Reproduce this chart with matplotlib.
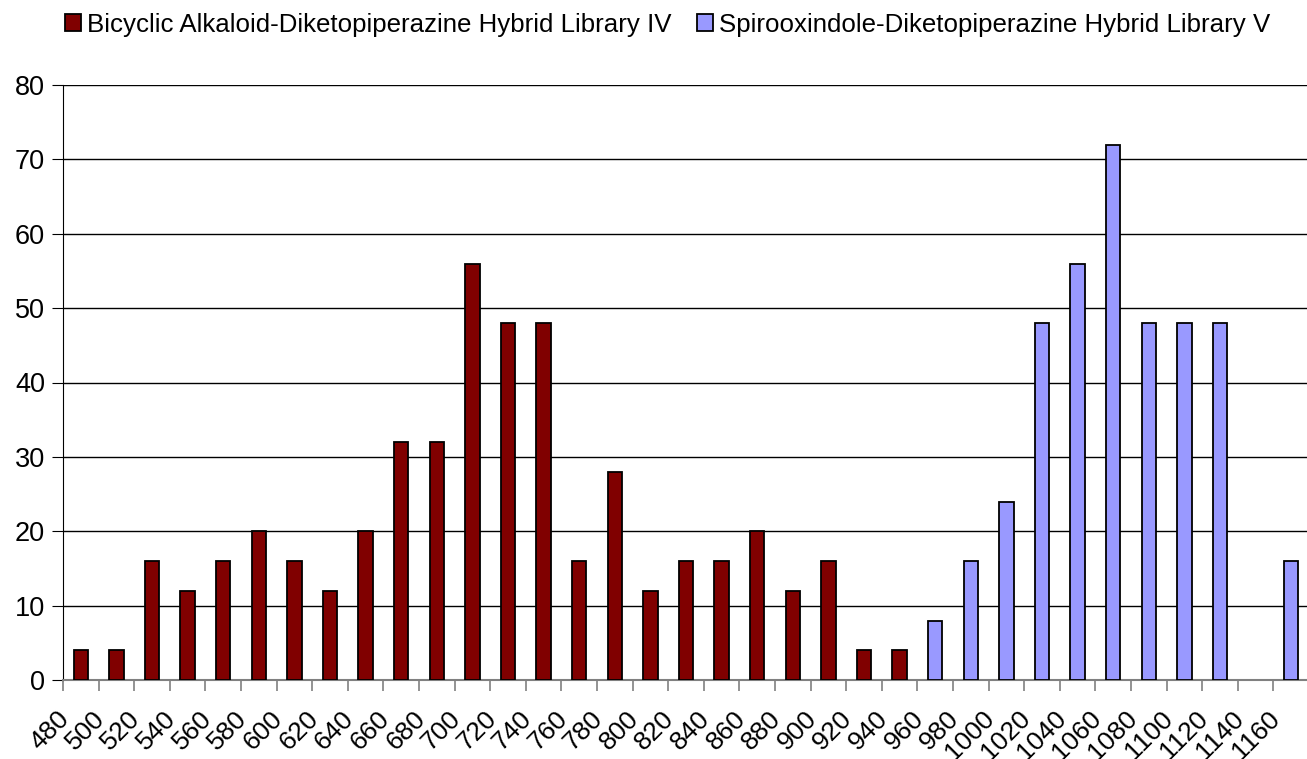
import matplotlib.pyplot as plt
import matplotlib.transforms as mtransforms
import numpy as np

plt.rcParams['font.family'] = ['Liberation Sans', 'DejaVu Sans']

# mass bins (category labels)
bins = [480, 500, 520, 540, 560, 580, 600, 620, 640, 660, 680, 700, 720, 740,
        760, 780, 800, 820, 840, 860, 880, 900, 920, 940, 960, 980, 1000, 1020,
        1040, 1060, 1080, 1100, 1120, 1140, 1160]

# counts per bin for each library (0 where the library has no bar)
lib_iv = [4, 4, 16, 12, 16, 20, 16, 12, 20, 32, 32, 56, 48, 48,
          16, 28, 12, 16, 16, 20, 12, 16, 4, 4, 0, 0, 0, 0,
          0, 0, 0, 0, 0, 0, 0]
lib_v = [0, 0, 0, 0, 0, 0, 0, 0, 0, 0, 0, 0, 0, 0,
         0, 0, 0, 0, 0, 0, 0, 0, 0, 0, 8, 16, 24, 48,
         56, 72, 48, 48, 48, 0, 16]

name_iv = "Bicyclic Alkaloid-Diketopiperazine Hybrid Library IV"
name_v = "Spirooxindole-Diketopiperazine Hybrid Library V"

fig = plt.figure(figsize=(13.07, 7.59), dpi=100)
ax = fig.add_axes([63 / 1307, 79 / 759, 1246 / 1307, 595 / 759])

x = np.arange(len(bins))
iv = np.array(lib_iv)
v = np.array(lib_v)

# only draw the nonzero bars of each series
m1 = iv > 0
m2 = v > 0
ax.bar(x[m1], iv[m1], width=0.4, color='#800000', edgecolor='black',
       linewidth=1.3, label=name_iv, zorder=3)
ax.bar(x[m2], v[m2], width=0.4, color='#9999FF', edgecolor='black',
       linewidth=1.3, label=name_v, zorder=3)

ax.set_xlim(-0.5, len(bins) - 0.5)
ax.set_ylim(0, 80)
ax.set_yticks(range(0, 81, 10))
ax.yaxis.grid(True, color='black', linewidth=1)
ax.set_axisbelow(True)

for s in ['top', 'right']:
    ax.spines[s].set_visible(False)
ax.spines['left'].set_color('black')
ax.spines['bottom'].set_color('#808080')
ax.spines['bottom'].set_linewidth(1.5)

ax.tick_params(axis='y', direction='out', length=8, labelsize=19.5, pad=5)

# boundary ticks between categories, labels at the centres
ax.set_xticks(np.arange(-0.5, len(bins), 1.0), minor=True)
ax.tick_params(axis='x', which='minor', direction='out', length=8,
               width=1.2, color='#808080')
ax.set_xticks(x)
ax.set_xticklabels([str(b) for b in bins], rotation=45, ha='right',
                   rotation_mode='anchor', fontsize=19)
ax.tick_params(axis='x', which='major', length=0, pad=19)
shift = mtransforms.ScaledTranslation(-0.24, 0, fig.dpi_scale_trans)
for lab in ax.get_xticklabels():
    lab.set_transform(lab.get_transform() + shift)

fig.legend(loc='upper center', bbox_to_anchor=(0.511, 1.014), ncol=2,
           frameon=False, fontsize=18.6, handlelength=0.6, handleheight=0.6,
           handletextpad=0.25, columnspacing=1.0)

fig.savefig('out.png', dpi=100)
